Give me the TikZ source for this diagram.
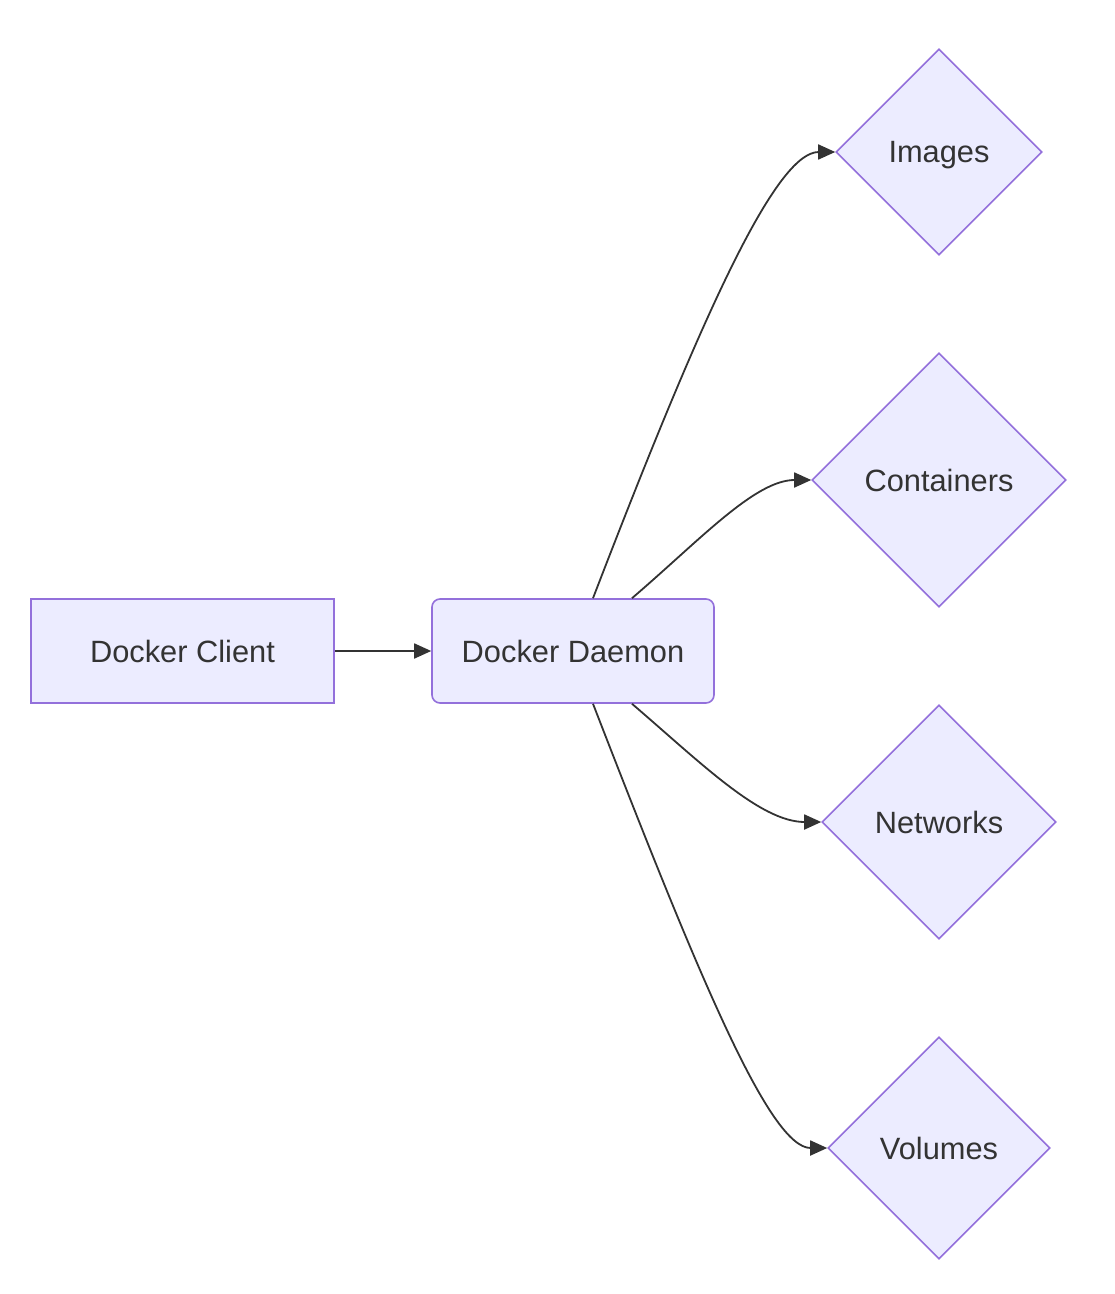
\documentclass[tikz,border=0pt]{standalone}
\usepackage{fontspec}
\setmainfont{Liberation Sans}
\usetikzlibrary{shapes.geometric,arrows.meta}
\definecolor{boxfill}{HTML}{ECECFF}
\definecolor{boxline}{HTML}{9370DB}
\definecolor{edgeline}{HTML}{333333}
\begin{document}
\begin{tikzpicture}[x=0.5pt,y=-0.5pt,
	every node/.style={draw=boxline,fill=boxfill,line width=0.8pt,text=edgeline,
	font=\fontsize{15.4pt}{18pt}\selectfont,inner sep=0,text height=11pt,text depth=0pt},
	box/.style={rectangle,minimum height=52pt},
	store/.style={diamond,aspect=1,minimum size=#1},
	link/.style={draw=edgeline,line width=0.9pt,-{Triangle[length=8.5pt,width=7.5pt]}}]
\useasboundingbox (0,0) rectangle (1114,1294);
\node[box,minimum width=151.5pt] (client) at (182.5,651) {Docker Client};
\node[box,minimum width=141pt,rounded corners=4pt] (daemon) at (573,651) {Docker Daemon};
\node[store=103pt] (images) at (939,152) {Images};
\node[store=127pt] (containers) at (939,480) {Containers};
\node[store=117pt] (networks) at (939,822) {Networks};
\node[store=111pt] (volumes) at (939,1148) {Volumes};
% edges
\draw[link] (client.east) -- (daemon.west);
\draw[link] ([xshift=10pt]daemon.north) .. controls (700,320) and (775,152) .. (images.west);
\draw[link] ([xshift=29.5pt]daemon.north) .. controls (700,540) and (755,480) .. (containers.west);
\draw[link] ([xshift=29.5pt]daemon.south) .. controls (700,762) and (760,822) .. (networks.west);
\draw[link] ([xshift=10pt]daemon.south) .. controls (700,980) and (770,1148) .. (volumes.west);
\end{tikzpicture}
\end{document}
